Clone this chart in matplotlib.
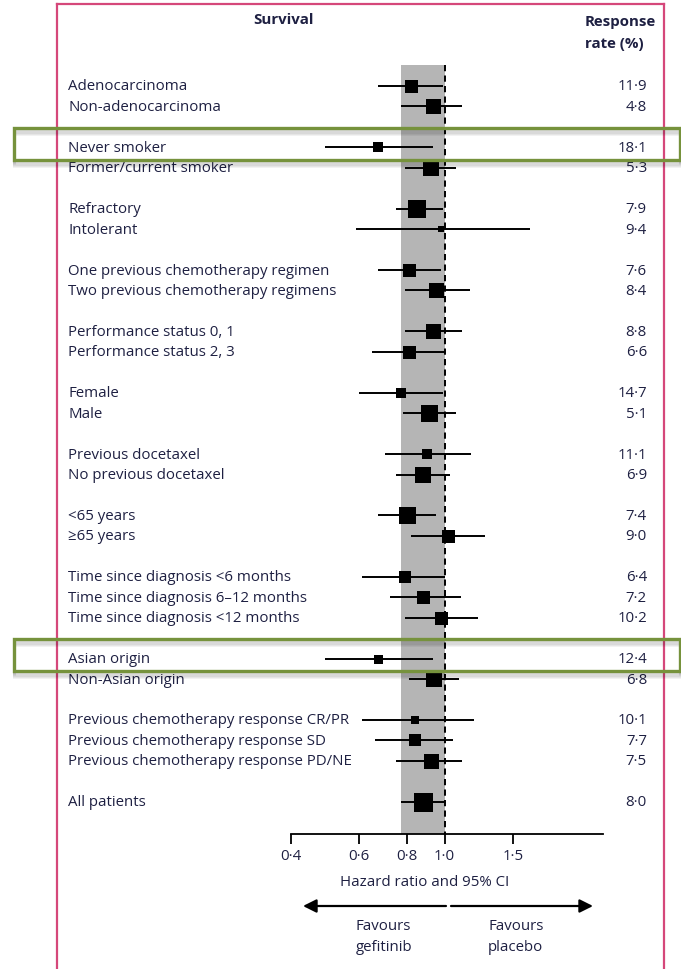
import numpy as np
import matplotlib
matplotlib.use("Agg")
import matplotlib.pyplot as plt
from matplotlib.lines import Line2D
from matplotlib.patches import Rectangle
from matplotlib.transforms import blended_transform_factory, offset_copy

# ---- data -------------------------------------------------------------
labels = [
    "Adenocarcinoma", "Non-adenocarcinoma",
    "Never smoker", "Former/current smoker",
    "Refractory", "Intolerant",
    "One previous chemotherapy regimen", "Two previous chemotherapy regimens",
    "Performance status 0, 1", "Performance status 2, 3",
    "Female", "Male",
    "Previous docetaxel", "No previous docetaxel",
    "<65 years", "\u226565 years",
    "Time since diagnosis <6 months", "Time since diagnosis 6\u201312 months",
    "Time since diagnosis <12 months",
    "Asian origin", "Non-Asian origin",
    "Previous chemotherapy response CR/PR", "Previous chemotherapy response SD",
    "Previous chemotherapy response PD/NE",
    "All patients",
]
group_id = [0, 0, 1, 1, 2, 2, 3, 3, 4, 4, 5, 5, 6, 6, 7, 7, 8, 8, 8,
            9, 9, 10, 10, 10, 11]
hazard_ratio = [0.82, 0.93, 0.67, 0.92, 0.85, 0.98, 0.81, 0.95, 0.93, 0.81,
                0.77, 0.91, 0.90, 0.88, 0.80, 1.02, 0.79, 0.88, 0.98,
                0.67, 0.94, 0.84, 0.84, 0.92, 0.88]
ci_low = [0.67, 0.77, 0.49, 0.79, 0.75, 0.59, 0.67, 0.79, 0.79, 0.65,
          0.60, 0.78, 0.70, 0.75, 0.67, 0.82, 0.61, 0.72, 0.79,
          0.49, 0.81, 0.61, 0.66, 0.75, 0.77]
ci_high = [0.99, 1.11, 0.93, 1.07, 0.99, 1.66, 0.98, 1.16, 1.11, 1.00,
           0.99, 1.07, 1.17, 1.03, 0.95, 1.27, 1.00, 1.10, 1.22,
           0.93, 1.09, 1.19, 1.05, 1.11, 1.00]
box_weight = [13, 15, 10, 16, 18, 6, 13, 15, 15, 13, 10, 17, 10, 16, 17,
              13, 12, 13, 13, 9, 16, 8, 12, 15, 19]
response_rate = ["11\u00b79", "4\u00b78", "18\u00b71", "5\u00b73", "7\u00b79",
                 "9\u00b74", "7\u00b76", "8\u00b74", "8\u00b78", "6\u00b76",
                 "14\u00b77", "5\u00b71", "11\u00b71", "6\u00b79", "7\u00b74",
                 "9\u00b70", "6\u00b74", "7\u00b72", "10\u00b72", "12\u00b74",
                 "6\u00b78", "10\u00b71", "7\u00b77", "7\u00b75", "8\u00b70"]
highlighted = ["Never smoker", "Asian origin"]
tick_values = [0.4, 0.6, 0.8, 1.0, 1.5]
tick_labels = ["0\u00b74", "0\u00b76", "0\u00b78", "1\u00b70", "1\u00b75"]

# ---- style ------------------------------------------------------------
plt.rcParams["font.family"] = ["Open Sans", "DejaVu Sans"]
TEXT = "#1e2042"
FRAME = "#d5477a"
GREEN = "#76923c"
BAND = "#b5b5b5"
FS = 10.8

W, H = 681, 970
fig = plt.figure(figsize=(W / 100, H / 100), dpi=100)
fig.patch.set_facecolor("white")

def fx(px):
    return px / W

def fy(py):
    return 1 - py / H

# forest axes: log-scaled hazard ratio, rows run downward
ax = fig.add_axes([fx(291), fy(835), fx(603.3) - fx(291), fy(60) - fy(835)])
ax.set_xscale("log")
ax.set_xlim(0.4, 2.575)
row_top, row_bottom = -1.32, 36.58
ax.set_ylim(row_bottom, row_top)
ax.patch.set_alpha(0)
for s in ("top", "right", "left"):
    ax.spines[s].set_visible(False)
ax.spines["bottom"].set_linewidth(1.3)
ax.set_yticks([])
ax.xaxis.set_major_locator(matplotlib.ticker.FixedLocator(tick_values))
ax.xaxis.set_minor_locator(matplotlib.ticker.NullLocator())
ax.set_xticklabels(tick_labels)
ax.tick_params(axis="x", direction="out", length=7, width=1.3, pad=3,
               labelsize=FS, labelcolor=TEXT)

rows = np.arange(len(labels)) + np.array(group_id)

# overall confidence band and line of no effect
band_top = -1.03
ax.fill_betweenx([band_top, row_bottom], ci_low[-1], ci_high[-1],
                 color=BAND, lw=0, zorder=0)
ax.plot([1, 1], [band_top, row_bottom], color="black", lw=1.4,
        ls=(0, (3.2, 2.2)), zorder=1)

# confidence intervals and weighted boxes
for y, h, lo, hi, w in zip(rows, hazard_ratio, ci_low, ci_high, box_weight):
    ax.plot([lo, hi], [y, y], color="black", lw=1.4, zorder=2,
            solid_capstyle="butt")
    ax.plot([h], [y], marker="s", ms=w * 0.72, mew=0, color="black",
            zorder=3)

# row labels and response rates
row_tf = blended_transform_factory(fig.transFigure, ax.transData)
for y, lab, rr in zip(rows, labels, response_rate):
    ax.text(fx(68), y, lab, transform=row_tf, ha="left", va="center",
            fontsize=FS, color=TEXT)
    ax.text(fx(647), y, rr, transform=row_tf, ha="right", va="center",
            fontsize=FS, color=TEXT)

# headers
fig.text(fx(283), fy(20), "Survival", ha="center", va="center",
         fontsize=FS, fontweight="bold", color=TEXT)
fig.text(fx(585), fy(22), "Response", ha="left", va="center",
         fontsize=FS, fontweight="bold", color=TEXT)
fig.text(fx(585), fy(44), "rate (%)", ha="left", va="center",
         fontsize=FS, fontweight="bold", color=TEXT)

# axis caption and direction arrows
fig.text(fx(425), fy(883), "Hazard ratio and 95% CI", ha="center",
         va="center", fontsize=FS, color=TEXT)
arrow = dict(arrowstyle="-|>", lw=1.6, color="black", mutation_scale=20,
             shrinkA=0, shrinkB=0)
ax.annotate("", xy=(303, H - 907), xytext=(446, H - 907),
            xycoords="figure pixels", textcoords="figure pixels",
            arrowprops=arrow)
ax.annotate("", xy=(593, H - 907), xytext=(451, H - 907),
            xycoords="figure pixels", textcoords="figure pixels",
            arrowprops=arrow)
fig.text(fx(356), fy(927), "Favours", ha="left", va="center",
         fontsize=FS, color=TEXT)
fig.text(fx(356), fy(948), "gefitinib", ha="left", va="center",
         fontsize=FS, color=TEXT)
fig.text(fx(488), fy(927), "Favours", ha="left", va="center",
         fontsize=FS, color=TEXT)
fig.text(fx(488), fy(948), "placebo", ha="left", va="center",
         fontsize=FS, color=TEXT)

# page frame
for xs, ys in (([fx(56.7), fx(56.7)], [0, fy(5)]),
               ([fx(664.3), fx(664.3)], [0, fy(5)]),
               ([fx(56.7), fx(664.3)], [fy(5), fy(5)])):
    fig.add_artist(Line2D(xs, ys, color=FRAME, lw=1.6,
                          transform=fig.transFigure))

# highlight boxes with a soft drop shadow
for lab in highlighted:
    y = rows[labels.index(lab)]
    x0, x1 = fx(14), fx(680)
    for k in range(1, 7):
        tf = offset_copy(row_tf, fig=fig, x=0, y=-k, units="dots")
        fig.add_artist(Rectangle((x0, y - 0.95), x1 - x0, 1.55, fill=False,
                                 ec="black", lw=2.2, alpha=0.05,
                                 transform=tf, zorder=9))
    fig.add_artist(Rectangle((x0, y - 0.95), x1 - x0, 1.55, fill=False,
                             ec=GREEN, lw=2.4, transform=row_tf, zorder=10))

fig.savefig("out.png", dpi=100, facecolor="white")
